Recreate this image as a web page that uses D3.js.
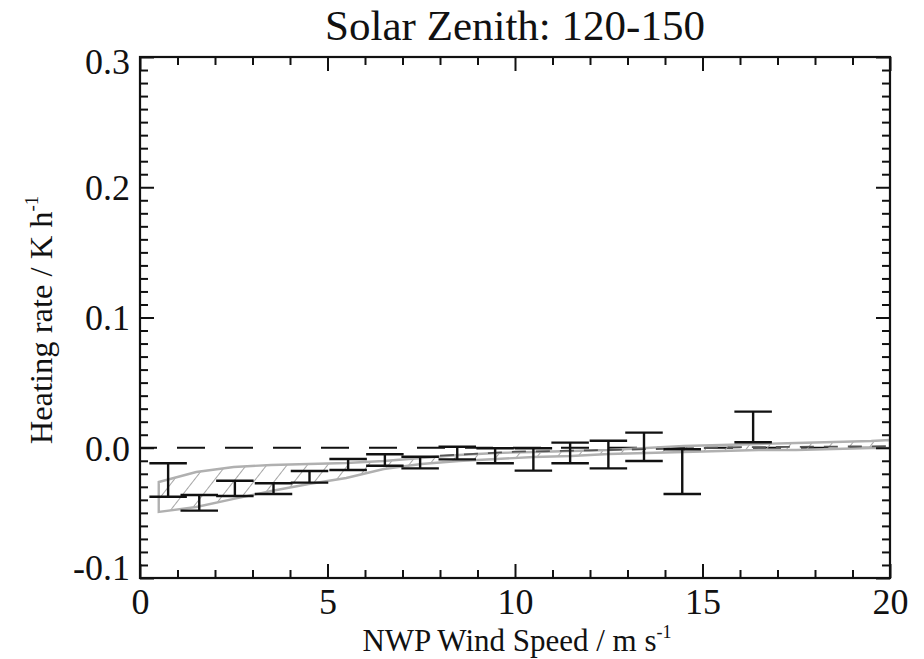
<!DOCTYPE html>
<html><head><meta charset="utf-8">
<script src="https://cdn.jsdelivr.net/npm/d3@7"></script>
<style>body{margin:0;background:#fff}svg{display:block}</style>
</head><body><svg id="c" width="924" height="659" font-family="Liberation Serif"></svg>
<script>
// ---- data ----
const title = "Solar Zenith: 120-150";
const xTickValues = [0, 5, 10, 15, 20];
const xTickLabels = ["0", "5", "10", "15", "20"];
const yTickValues = [-0.1, 0.0, 0.1, 0.2, 0.3];
const yTickLabels = ["-0.1", "0.0", "0.1", "0.2", "0.3"];

// observed error bars: wind speed, upper, lower
const obsWind  = [0.75, 1.58, 2.53, 3.56, 4.52, 5.55, 6.53, 7.47, 8.46, 9.47, 10.49, 11.47, 12.49, 13.44, 14.46, 16.35];
const obsUpper = [-0.0119, -0.0363, -0.0253, -0.0273, -0.0179, -0.0086, -0.0050, -0.0069, 0.0008, -0.0004, -0.0004, 0.0039, 0.0054, 0.0116, -0.0012, 0.0277];
const obsLower = [-0.0376, -0.0483, -0.0370, -0.0355, -0.0268, -0.0171, -0.0138, -0.0158, -0.0089, -0.0119, -0.0176, -0.0119, -0.0158, -0.0102, -0.0355, 0.0042];

// model band
const bandWind  = [0.5, 1.5, 2.5, 3.5, 4.5, 5.5, 6.5, 7.5, 8.5, 9.5, 10.5, 11.5, 12.5, 13.5, 14.5, 15.5, 16.5, 17.5, 18.5, 19.5, 20];
const bandUpper = [-0.0263, -0.0186, -0.0148, -0.0132, -0.0125, -0.0117, -0.0102, -0.0079, -0.0056, -0.0040, -0.0033, -0.0025, -0.0017, -0.0002, 0.0013, 0.0021, 0.0029, 0.0036, 0.0044, 0.0052, 0.0060];
const bandLower = [-0.0493, -0.0455, -0.0393, -0.0332, -0.0278, -0.0232, -0.0163, -0.0125, -0.0102, -0.0086, -0.0071, -0.0063, -0.0048, -0.0040, -0.0033, -0.0025, -0.0017, -0.0017, -0.0010, -0.0002, -0.0002];
// model central line (right part)
const midWind = [8.0, 10.0, 12.0, 14.0, 16.0, 18.0, 20.0];
const midVal  = [-0.0060, -0.0030, -0.0020, -0.0008, 0.0004, 0.0008, 0.0012];

// ---- drawing ----
const FONT = "Liberation Serif";
const svg = d3.select("#c");
const L = 140, R = 890, T = 57, B = 578;
const x = d3.scaleLinear().domain([0, 20]).range([L, R]);
const y = d3.scaleLinear().domain([-0.1, 0.3]).range([B, T]);

const defs = svg.append("defs");
defs.append("clipPath").attr("id", "plotclip").append("rect")
  .attr("x", L).attr("y", T).attr("width", R - L).attr("height", B - T);
const pat = defs.append("pattern").attr("id", "hatch").attr("patternUnits", "userSpaceOnUse")
  .attr("width", 16).attr("height", 16).attr("patternTransform", "rotate(38)");
pat.append("line").attr("x1", 0).attr("y1", -2).attr("x2", 0).attr("y2", 18)
  .attr("stroke", "#a6a6a6").attr("stroke-width", 2);

const plot = svg.append("g").attr("clip-path", "url(#plotclip)");

// zero dashed line
plot.append("line").attr("x1", x(0)).attr("x2", x(20)).attr("y1", y(0)).attr("y2", y(0))
  .attr("stroke", "#111").attr("stroke-width", 2).attr("stroke-dasharray", "28,20")
  .attr("stroke-dashoffset", 11);

// band
const bandData = bandWind.map((w, i) => ({w, u: bandUpper[i], l: bandLower[i]}));
const area = d3.area().x(d => x(d.w)).y0(d => y(d.l)).y1(d => y(d.u));
plot.append("path").datum(bandData).attr("d", area).attr("fill", "url(#hatch)")
  .attr("stroke", "#b0b0b0").attr("stroke-width", 2.4);
const midData = midWind.map((w, i) => ({w, v: midVal[i]}));
plot.append("path").datum(midData)
  .attr("d", d3.line().x(d => x(d.w)).y(d => y(d.v)))
  .attr("fill", "none").attr("stroke", "#555").attr("stroke-width", 1.8)
  .attr("stroke-dasharray", "14,10");

// error bars
const cap = 0.5;
const eb = plot.append("g").attr("stroke", "#111").attr("stroke-width", 2.4).attr("fill", "none");
obsWind.forEach((w, i) => {
  eb.append("line").attr("x1", x(w)).attr("x2", x(w)).attr("y1", y(obsUpper[i])).attr("y2", y(obsLower[i]));
  eb.append("line").attr("x1", x(w - cap)).attr("x2", x(w + cap)).attr("y1", y(obsUpper[i])).attr("y2", y(obsUpper[i]));
  eb.append("line").attr("x1", x(w - cap)).attr("x2", x(w + cap)).attr("y1", y(obsLower[i])).attr("y2", y(obsLower[i]));
});

// axes (ticks inward on all four sides)
const xMinor = d3.range(0, 21, 1).filter(v => v % 5 !== 0);
const yMinor = d3.range(-10, 31, 1).filter(v => v % 10 !== 0).map(v => v / 100);
function styleAxis(g) {
  g.attr("font-family", FONT);
  g.select(".domain").remove();
  g.selectAll(".tick line").attr("stroke", "#111").attr("stroke-width", 2);
}
const fs = 36;
svg.append("g").attr("transform", `translate(0,${B})`)
  .call(d3.axisBottom(x).tickValues(xTickValues).tickSize(-14).tickPadding(10)
    .tickFormat((d, i) => xTickLabels[i]))
  .call(styleAxis)
  .call(g => g.selectAll("text").attr("font-size", fs).attr("font-family", FONT).attr("fill", "#111"));
svg.append("g").attr("transform", `translate(0,${B})`)
  .call(d3.axisBottom(x).tickValues(xMinor).tickSize(-8).tickFormat(""))
  .call(styleAxis);
svg.append("g").attr("transform", `translate(0,${T})`)
  .call(d3.axisTop(x).tickValues(xTickValues).tickSize(-14).tickFormat(""))
  .call(styleAxis);
svg.append("g").attr("transform", `translate(0,${T})`)
  .call(d3.axisTop(x).tickValues(xMinor).tickSize(-8).tickFormat(""))
  .call(styleAxis);
svg.append("g").attr("transform", `translate(${L},0)`)
  .call(d3.axisLeft(y).tickValues(yTickValues).tickSize(-14).tickPadding(10)
    .tickFormat((d, i) => yTickLabels[i]))
  .call(styleAxis)
  .call(g => g.selectAll("text").attr("font-size", fs).attr("font-family", FONT).attr("fill", "#111")
    .attr("dy", (d, i) => i === 0 ? "0.05em" : (i === yTickValues.length - 1 ? "0.47em" : "0.34em")));
svg.append("g").attr("transform", `translate(${L},0)`)
  .call(d3.axisLeft(y).tickValues(yMinor).tickSize(-8).tickFormat(""))
  .call(styleAxis);
svg.append("g").attr("transform", `translate(${R},0)`)
  .call(d3.axisRight(y).tickValues(yTickValues).tickSize(-14).tickFormat(""))
  .call(styleAxis);
svg.append("g").attr("transform", `translate(${R},0)`)
  .call(d3.axisRight(y).tickValues(yMinor).tickSize(-8).tickFormat(""))
  .call(styleAxis);

// frame
svg.append("rect").attr("x", L).attr("y", T).attr("width", R - L).attr("height", B - T)
  .attr("fill", "none").attr("stroke", "#111").attr("stroke-width", 2.2);

// title
svg.append("text").attr("x", 515).attr("y", 40).attr("text-anchor", "middle")
  .attr("font-family", FONT).attr("fill", "#111").attr("font-size", 43).text(title);

// x label
const xl = svg.append("text").attr("x", 517).attr("y", 651).attr("text-anchor", "middle")
  .attr("font-family", FONT).attr("fill", "#111").attr("font-size", 31);
xl.append("tspan").text("NWP Wind Speed / m s");
xl.append("tspan").attr("font-size", 18).attr("dy", -13).text("-1");

// y label
const yl = svg.append("text").attr("transform", "translate(52,320) rotate(-90)")
  .attr("font-family", FONT).attr("fill", "#111")
  .attr("text-anchor", "middle").attr("font-size", 32.5);
yl.append("tspan").text("Heating rate / K h");
yl.append("tspan").attr("font-size", 19).attr("dy", -14).text("-1");
</script></body></html>
